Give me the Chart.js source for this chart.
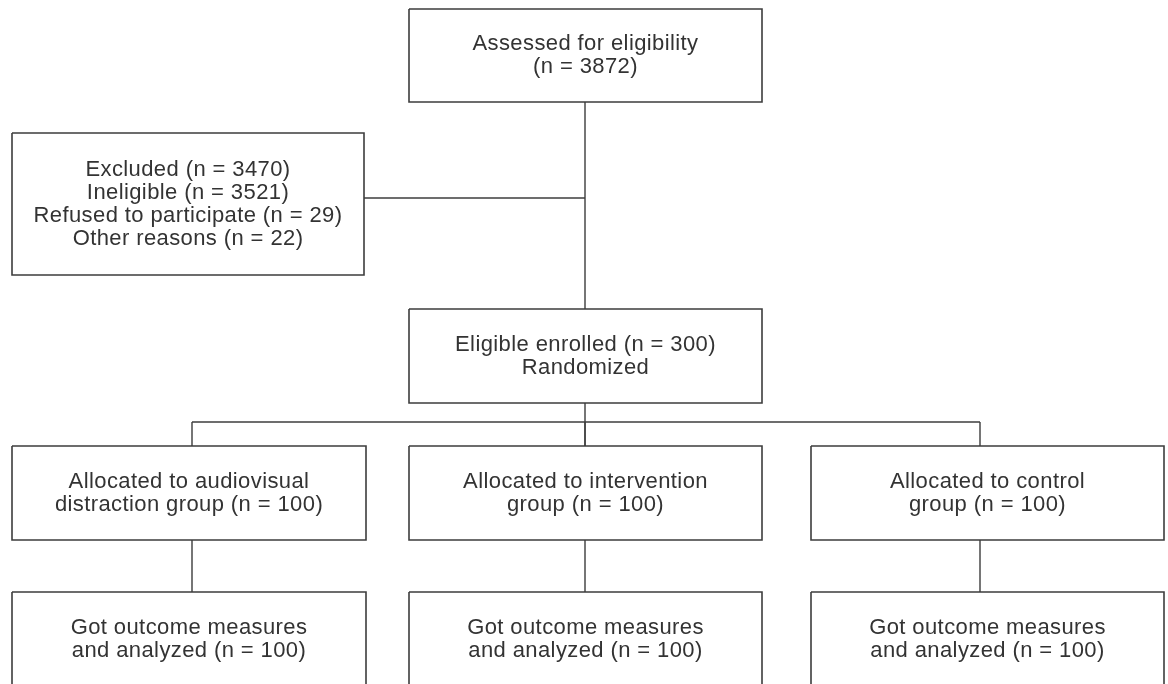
<!DOCTYPE html>
<html>
<head>
<meta charset="utf-8">
<script src="https://cdn.jsdelivr.net/npm/chart.js@4"></script>
<style>
  html, body { margin: 0; padding: 0; background: #fff; }
  #flow { display: block; }
</style>
</head>
<body>
<canvas id="flow" width="1168" height="684"></canvas>
<script>
// text of each box in the flow diagram, one array entry per line
const assessedText  = ['Assessed for eligibility', '(n = 3872)'];
const excludedText  = ['Excluded (n = 3470)', 'Ineligible (n = 3521)', 'Refused to participate (n = 29)', 'Other reasons (n = 22)'];
const enrolledText  = ['Eligible enrolled (n = 300)', 'Randomized'];
const allocatedText = [
    ['Allocated to audiovisual', 'distraction group (n = 100)'],
    ['Allocated to intervention', 'group (n = 100)'],
    ['Allocated to control', 'group (n = 100)']
];
const analyzedText  = [
    ['Got outcome measures', 'and analyzed (n = 100)'],
    ['Got outcome measures', 'and analyzed (n = 100)'],
    ['Got outcome measures', 'and analyzed (n = 100)']
];

// layout, in the same units as the (hidden) x / y scales
const colLeft  = [12, 409, 811];
const colRight = [366, 762, 1164];
const rowTop    = { assessed: 9, excluded: 133, enrolled: 309, allocated: 446, analyzed: 592 };
const rowBottom = { assessed: 102, excluded: 275, enrolled: 403, allocated: 540, analyzed: 686 };
const branchX = [192, 585, 980];
const spineX = 585;
const splitY = 422;
const excludeY = 198;

const boxes = [
    { rect: [colLeft[1], rowTop.assessed, colRight[1], rowBottom.assessed], text: assessedText },
    { rect: [colLeft[0], rowTop.excluded, 364, rowBottom.excluded], text: excludedText },
    { rect: [colLeft[1], rowTop.enrolled, colRight[1], rowBottom.enrolled], text: enrolledText }
];
allocatedText.forEach((t, i) => boxes.push({ rect: [colLeft[i], rowTop.allocated, colRight[i], rowBottom.allocated], text: t }));
analyzedText.forEach((t, i) => boxes.push({ rect: [colLeft[i], rowTop.analyzed, colRight[i], rowBottom.analyzed], text: t }));

const connectors = [
    [[spineX, rowBottom.assessed], [spineX, rowTop.enrolled]],
    [[364, excludeY], [spineX, excludeY]],
    [[spineX, rowBottom.enrolled], [spineX, rowTop.allocated]],
    [[branchX[0], splitY], [branchX[2], splitY]]
];
branchX.forEach(x => {
    connectors.push([[x, splitY], [x, rowTop.allocated]]);
    connectors.push([[x, rowBottom.allocated], [x, rowTop.analyzed]]);
});

const ink = '#3d3d3d';

const datasets = [];
boxes.forEach(b => {
    const [x0, y0, x1, y1] = b.rect;
    datasets.push({
        data: [{x: x0, y: y0}, {x: x1, y: y0}, {x: x1, y: y1}, {x: x0, y: y1}, {x: x0, y: y0}],
        showLine: true, borderColor: ink, borderWidth: 1.6, pointRadius: 0,
        backgroundColor: '#fff', fill: false, tension: 0
    });
});
connectors.forEach(c => {
    datasets.push({
        data: c.map(p => ({x: p[0], y: p[1]})),
        showLine: true, borderColor: ink, borderWidth: 1.4, pointRadius: 0, tension: 0
    });
});

const boxTextPlugin = {
    id: 'boxText',
    afterDatasetsDraw(chart) {
        const { ctx, scales: { x, y } } = chart;
        ctx.save();
        ctx.fillStyle = '#333';
        ctx.font = '22px "Liberation Sans", Arial, sans-serif';
        if ('letterSpacing' in ctx) ctx.letterSpacing = '0.4px';
        ctx.textAlign = 'center';
        ctx.textBaseline = 'middle';
        const lh = 23;
        boxes.forEach(b => {
            const [x0, y0, x1, y1] = b.rect;
            const cx = x.getPixelForValue((x0 + x1) / 2);
            const cy = y.getPixelForValue((y0 + y1) / 2);
            const n = b.text.length;
            b.text.forEach((line, i) => {
                ctx.fillText(line, cx, cy + (i - (n - 1) / 2) * lh);
            });
        });
        ctx.restore();
    }
};

new Chart(document.getElementById('flow'), {
    type: 'scatter',
    data: { datasets: datasets },
    options: {
        responsive: false,
        animation: false,
        layout: { padding: 0 },
        scales: {
            x: { type: 'linear', min: 0, max: 1168, display: false },
            y: { type: 'linear', min: 0, max: 684, reverse: true, display: false }
        },
        plugins: {
            legend: { display: false },
            tooltip: { enabled: false }
        }
    },
    plugins: [boxTextPlugin]
});
</script>
</body>
</html>
